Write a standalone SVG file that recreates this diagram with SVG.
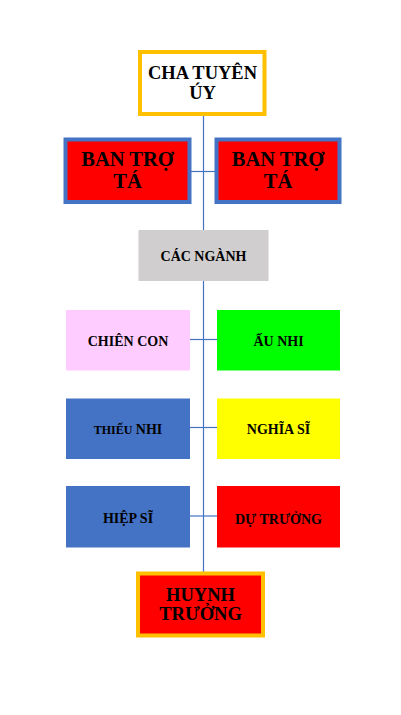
<svg xmlns="http://www.w3.org/2000/svg" width="401" height="715" viewBox="0 0 401 715">
<style>
text{font-family:"Liberation Serif","Times New Roman",serif;font-weight:bold;fill:#000;text-anchor:middle}
.big{font-size:18.5px}
.mid{font-size:20.5px}
.sm{font-size:14px}
.conn line{stroke:#4472C4;stroke-width:1.2}
</style>
<rect width="401" height="715" fill="#fff"/>
<g id="connectors" class="conn">
<line x1="203.5" y1="115" x2="203.5" y2="572"/>
<line x1="191" y1="171.5" x2="215" y2="171.5"/>
<line x1="190" y1="339.5" x2="217" y2="339.5"/>
<line x1="190" y1="427.5" x2="217" y2="427.5"/>
<line x1="190" y1="516" x2="217" y2="516"/>
</g>
<g id="cha-tuyen-uy">
<rect x="140" y="52" width="124.5" height="62" fill="#fff" stroke="#FFC000" stroke-width="4"/>
<text class="big" x="202.5" y="79">CHA TUYÊN</text>
<text class="big" x="202.5" y="98.5">ÚY</text>
</g>
<g id="ban-tro-ta-1">
<rect x="65.5" y="139.5" width="124" height="62.5" fill="#FF0000" stroke="#4472C4" stroke-width="4"/>
<text class="mid" x="127.5" y="166">BAN TRỢ</text>
<text class="mid" x="127.5" y="187.5">TÁ</text>
</g>
<g id="ban-tro-ta-2">
<rect x="216.5" y="139.5" width="123" height="62.5" fill="#FF0000" stroke="#4472C4" stroke-width="4"/>
<text class="mid" x="278" y="166">BAN TRỢ</text>
<text class="mid" x="278" y="187.5">TÁ</text>
</g>
<g id="cac-nganh">
<rect x="138.5" y="230" width="130" height="51" fill="#D0CECE"/>
<text class="sm" x="203.5" y="261">CÁC NGÀNH</text>
</g>
<g id="chien-con">
<rect x="66" y="310" width="124" height="60.5" fill="#FFCCFF"/>
<text class="sm" x="128" y="345.5">CHIÊN CON</text>
</g>
<g id="au-nhi">
<rect x="217" y="310" width="123" height="60.5" fill="#00FF00"/>
<text class="sm" x="278.5" y="345.5">ẤU NHI</text>
</g>
<g id="thieu-nhi">
<rect x="66" y="398.5" width="124" height="60.5" fill="#4472C4"/>
<text class="sm" x="128" y="433.5"><tspan font-size="12">THIẾU</tspan> NHI</text>
</g>
<g id="nghia-si">
<rect x="217" y="398.5" width="123" height="60.5" fill="#FFFF00"/>
<text class="sm" x="278.5" y="433.5">NGHĨA SĨ</text>
</g>
<g id="hiep-si">
<rect x="66" y="486" width="124" height="61.5" fill="#4472C4"/>
<text class="sm" x="128" y="522.5">HIỆP SĨ</text>
</g>
<g id="du-truong">
<rect x="217" y="486" width="123" height="61.5" fill="#FF0000"/>
<text class="sm" x="278.5" y="524">DỰ TRƯỞNG</text>
</g>
<g id="huynh-truong">
<rect x="138" y="573.5" width="125" height="62" fill="#FF0000" stroke="#FFC000" stroke-width="4"/>
<text class="big" x="200.5" y="600.5">HUYNH</text>
<text class="big" x="200.5" y="620">TRƯỞNG</text>
</g>
</svg>
